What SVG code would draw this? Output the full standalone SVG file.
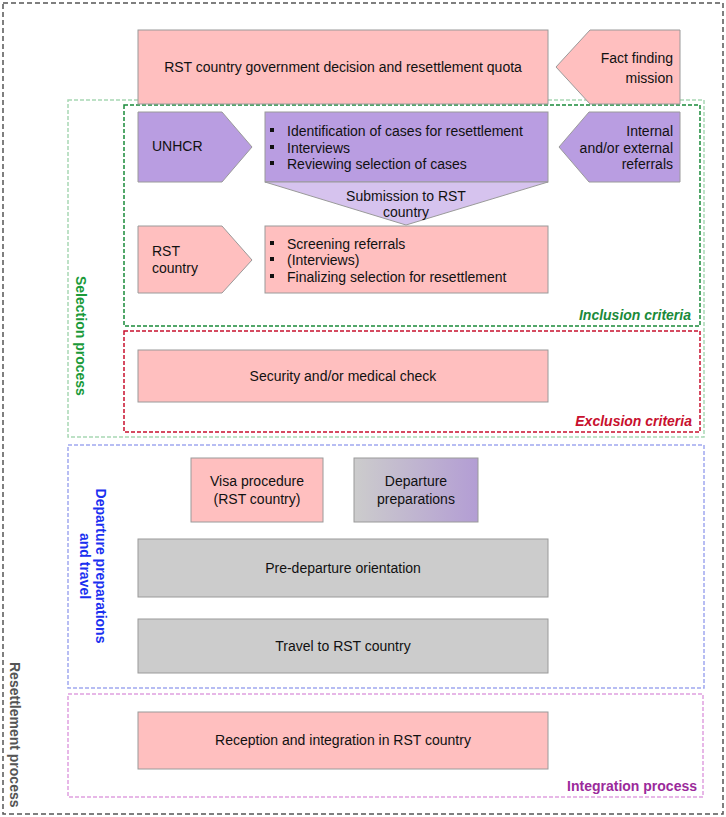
<svg xmlns="http://www.w3.org/2000/svg" width="726" height="817" viewBox="0 0 726 817">
<defs>
<linearGradient id="gp" x1="0" y1="0" x2="1" y2="0">
<stop offset="0" stop-color="#cccccc"/>
<stop offset="1" stop-color="#b39dd4"/>
</linearGradient>
</defs>
<style>
text{font-family:"Liberation Sans",Arial,sans-serif;font-size:14px;fill:#111}
.pink{fill:#ffbfbf;stroke:#9a9a9a;stroke-width:1}
.purple{fill:#b99de1;stroke:#9a9a9a;stroke-width:1}
.lpurple{fill:#d6c3ee;stroke:#9a9a9a;stroke-width:1}
.gray{fill:#cccccc;stroke:#9a9a9a;stroke-width:1}
.frame{fill:none;stroke-width:1.5;stroke-dasharray:4 2}
.c{text-anchor:middle}
.r{text-anchor:end}
.lab{font-weight:bold}
</style>
<g id="frames">
<rect id="resettlement" class="frame" x="3" y="3" width="720" height="811" stroke="#555555" style="stroke-dasharray:5 3"/>
<rect id="selection" class="frame" x="68" y="100" width="636" height="337" stroke="#a8d8b4"/>
<rect id="inclusion" class="frame" x="124" y="105" width="576" height="221" stroke="#1a8a3a"/>
<rect id="exclusion" class="frame" x="124" y="331" width="576" height="101" stroke="#c8102e"/>
<rect id="departure" class="frame" x="68" y="445" width="636" height="243" stroke="#a0a8f0"/>
<rect id="integration" class="frame" x="68" y="694" width="635" height="103" stroke="#e0a0e0"/>
<text class="lab" transform="translate(10,662) rotate(90)" style="fill:#555555">Resettlement process</text>
<text class="lab" transform="translate(76,276) rotate(90)" style="fill:#1a9a3a">Selection process</text>
<text class="lab c" transform="translate(96,566) rotate(90)" style="fill:#1a30f0">Departure preparations</text>
<text class="lab c" transform="translate(80,566) rotate(90)" style="fill:#1a30f0">and travel</text>
<text class="lab r" x="691" y="320" style="fill:#1a8a3a;font-style:italic">Inclusion criteria</text>
<text class="lab r" x="692" y="426" style="fill:#c8102e;font-style:italic">Exclusion criteria</text>
<text class="lab r" x="697" y="791" style="fill:#9b2a9b">Integration process</text>
</g>
<g id="connectors"></g>
<g id="n-quota">
<rect class="pink" x="138" y="30" width="410" height="74"/>
<text class="c" x="343" y="72">RST country government decision and resettlement quota</text>
</g>
<g id="n-fact">
<polygon class="pink" points="556,67 590,30 680,30 680,104 590,104"/>
<text class="r" x="673" y="63">Fact finding</text>
<text class="r" x="673" y="83">mission</text>
</g>
<g id="n-unhcr">
<polygon class="purple" points="138,112 222,112 252,147 222,182 138,182"/>
<text x="152" y="151">UNHCR</text>
</g>
<g id="n-identification">
<rect class="purple" x="265" y="112" width="283" height="70"/>
<rect x="270" y="128" width="4" height="4" fill="#111"/>
<rect x="270" y="145" width="4" height="4" fill="#111"/>
<rect x="270" y="161" width="4" height="4" fill="#111"/>
<text x="287" y="136">Identification of cases for resettlement</text>
<text x="287" y="153">Interviews</text>
<text x="287" y="169">Reviewing selection of cases</text>
</g>
<g id="n-internal">
<polygon class="purple" points="559,147 589,112 680,112 680,182 589,182"/>
<text class="r" x="673" y="136">Internal</text>
<text class="r" x="673" y="153">and/or external</text>
<text class="r" x="673" y="169">referrals</text>
</g>
<g id="n-submission">
<polygon class="lpurple" points="265,182 548,182 406,225"/>
<text class="c" x="406" y="201">Submission to RST</text>
<text class="c" x="406" y="217">country</text>
</g>
<g id="n-rst">
<polygon class="pink" points="138,226 222,226 252,260 222,293 138,293"/>
<text x="152" y="256">RST</text>
<text x="152" y="273">country</text>
</g>
<g id="n-screening">
<rect class="pink" x="265" y="226" width="283" height="67"/>
<rect x="270" y="241" width="4" height="4" fill="#111"/>
<rect x="270" y="257" width="4" height="4" fill="#111"/>
<rect x="270" y="274" width="4" height="4" fill="#111"/>
<text x="287" y="249">Screening referrals</text>
<text x="287" y="265">(Interviews)</text>
<text x="287" y="282">Finalizing selection for resettlement</text>
</g>
<g id="n-security">
<rect class="pink" x="138" y="350" width="410" height="52"/>
<text class="c" x="343" y="381">Security and/or medical check</text>
</g>
<g id="n-visa">
<rect class="pink" x="191" y="458" width="132" height="64"/>
<text class="c" x="257" y="486">Visa procedure</text>
<text class="c" x="257" y="504">(RST country)</text>
</g>
<g id="n-depprep">
<rect x="354" y="458" width="124" height="64" fill="url(#gp)" stroke="#9a9a9a"/>
<text class="c" x="416" y="486">Departure</text>
<text class="c" x="416" y="504">preparations</text>
</g>
<g id="n-predeparture">
<rect class="gray" x="138" y="539" width="410" height="58"/>
<text class="c" x="343" y="573">Pre-departure orientation</text>
</g>
<g id="n-travel">
<rect class="gray" x="138" y="619" width="410" height="54"/>
<text class="c" x="343" y="651">Travel to RST country</text>
</g>
<g id="n-reception">
<rect class="pink" x="138" y="712" width="410" height="57"/>
<text class="c" x="343" y="745">Reception and integration in RST country</text>
</g>
</svg>
